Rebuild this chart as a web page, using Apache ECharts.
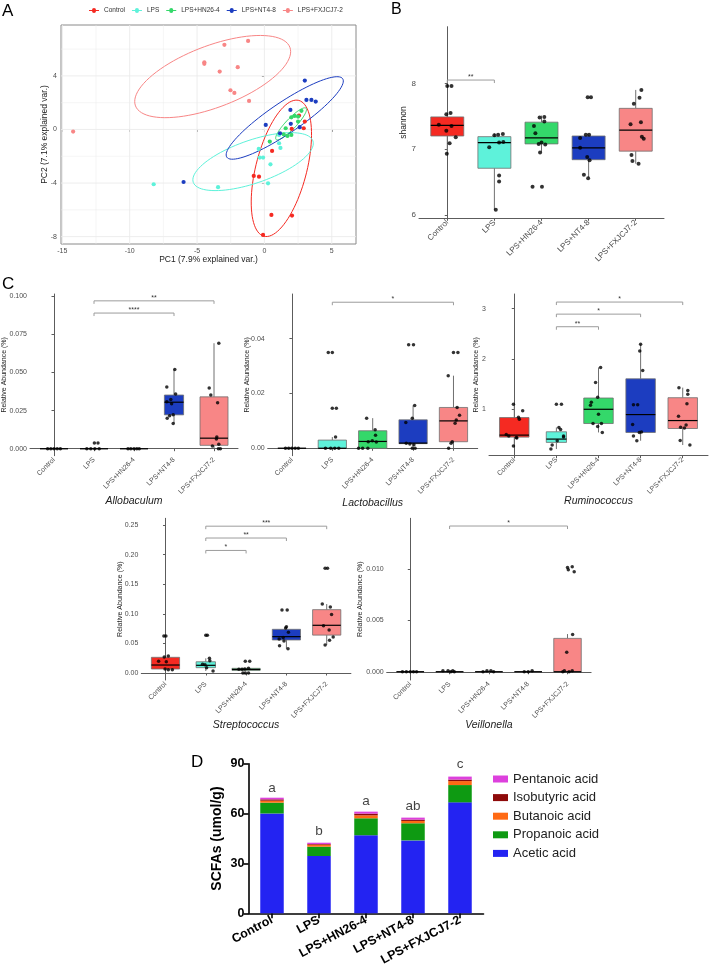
<!DOCTYPE html>
<html><head><meta charset="utf-8">
<script src="https://cdn.jsdelivr.net/npm/echarts@6/dist/echarts.min.js"></script>
<style>html,body{margin:0;padding:0;background:#fff}#c{width:710px;height:971px}</style>
</head><body><div id="c"></div>
<script>
// ---------------- DATA ----------------
const groups = ['Control','LPS','LPS+HN26-4','LPS+NT4-8','LPS+FXJCJ7-2'];

// Panel A: PCA scores [PC1, PC2]
const pcaControl = [[2.57,1.04],[3.0,0.59],[2.03,0.04],[2.92,0.09],[0.57,-1.60],[-0.79,-3.47],[-0.40,-3.52],[0.52,-6.38],[2.05,-6.43],[-0.10,-7.87]];
const pcaLPS = [[-8.22,-4.09],[-3.44,-4.31],[0.27,-4.02],[0.45,-2.60],[-0.42,-1.45],[-0.35,-2.10],[-0.10,-2.10],[1.09,-1.03],[1.19,-1.38],[1.09,-0.41]];
const pcaHN = [[2.75,1.39],[2.25,1.01],[2.50,0.96],[2.0,0.91],[1.58,0.09],[1.43,-0.36],[1.71,-0.48],[2.0,-0.41],[2.50,0.59],[0.40,-0.90]];
const pcaNT = [[3.0,3.65],[3.12,2.21],[3.49,2.21],[3.81,2.08],[1.93,1.46],[0.10,0.34],[1.96,0.42],[2.62,0.17],[1.16,-0.28],[-6.0,-3.92]];
const pcaFX = [[-2.97,6.32],[-1.21,6.61],[-4.46,5.02],[-4.46,4.9],[-3.32,4.32],[-1.98,4.65],[-2.52,2.93],[-2.23,2.73],[-1.14,2.13],[-14.2,-0.16]];
// confidence ellipses: [centerX, centerY, axis1X, axis1Y, axis2X, axis2Y]
const ellControl = [1.26,-2.9,1.29,5.07,-1.83,0.47];
const ellLPS = [-0.84,-2.4,4.44,1.55,-0.53,1.51];
const ellHN = [1.98,0.42,1.11,1.17,-0.28,0.26];
const ellNT = [1.51,0.86,4.30,2.93,-0.65,0.95];
const ellFX = [-3.84,3.95,5.73,2.19,-0.82,2.15];
const pcaXRange = [-15.1, 6.8];
const pcaYRange = [-8.55, 7.8];
const pcaXTicks = [-15,-10,-5,0,5];
const pcaYTicks = [-8,-4,0,4];

// Panel B: shannon, boxes [lowWhisker, Q1, median, Q3, highWhisker]; points [jitter, value]
const shannonBox = [[6.93,7.20,7.36,7.49,7.55],[6.08,6.71,7.10,7.19,7.24],[6.96,7.08,7.17,7.41,7.51],[6.57,6.84,7.02,7.20,7.22],[6.78,6.97,7.29,7.62,7.90]];
const shannonPts = [
  [[0,7.96],[0.09,7.96],[-0.02,7.53],[0.07,7.55],[-0.18,7.37],[0.09,7.35],[-0.02,7.28],[0.18,7.18],[0.05,7.09],[-0.01,6.93]],
  [[0,7.21],[0.08,7.22],[0.18,7.23],[0.1,7.10],[0.19,7.11],[-0.11,7.03],[0.1,6.60],[0.1,6.51],[0.03,6.08]],
  [[-0.04,7.48],[0.06,7.49],[0.06,7.42],[-0.16,7.35],[-0.13,7.24],[0,7.10],[-0.06,7.08],[0.08,7.07],[-0.03,6.95],[-0.19,6.43],[0.01,6.43]],
  [[-0.02,7.79],[0.05,7.79],[-0.06,7.22],[0.01,7.22],[-0.18,7.17],[-0.18,7.02],[-0.03,6.88],[0.02,6.83],[-0.1,6.61],[-0.01,6.56]],
  [[0.12,7.90],[0.08,7.78],[-0.04,7.69],[0.11,7.41],[-0.11,7.38],[0.13,7.19],[0.17,7.16],[-0.09,6.91],[-0.07,6.82],[0.06,6.78]]
];
const shannonSig = [[0,1,8.05]]; const shannonSigLbl = ['**'];
const shannonRange = [5.95, 8.86]; const shannonTicks = [6,7,8];

// Panel C: genus relative abundance
const alloBox = [[0,0,0,0,0],[0,0,0,0,0],[0,0,0,0,0],[0.0165,0.0222,0.0305,0.0352,0.052],[0,0.0022,0.0069,0.0340,0.0692]];
const alloPts = [
  [[-0.16,0],[-0.08,0],[0,0],[0.08,0],[0.16,0]],
  [[0.01,0.0037],[0.1,0.0037],[-0.18,0],[-0.08,0],[0.02,0],[0.13,0]],
  [[-0.15,0],[-0.08,0],[0,0],[0.07,0],[0.13,0]],
  [[0.02,0.052],[-0.18,0.0405],[0.04,0.0359],[-0.08,0.0322],[-0.18,0.0308],[-0.06,0.0295],[-0.02,0.0222],[-0.11,0.0216],[-0.17,0.020],[-0.02,0.0165]],
  [[0.12,0.0692],[-0.12,0.0399],[-0.08,0.0352],[0.09,0.0302],[0.07,0.0077],[0.06,0.0064],[0.12,0.0029],[-0.04,0.0018],[0.11,0],[0.16,0]]
];
const alloSig = [[1,4,0.097],[1,3,0.089]]; const alloSigLbl = ['**','****'];
const alloRange = [-0.0046, 0.1015]; const alloTicks = [0,0.025,0.05,0.075,0.1];

const lactoBox = [[0,0,0,0,0],[0,0,0,0.0030,0.0041],[0,0,0.0025,0.0064,0.011],[0,0.0017,0.0019,0.0104,0.0156],[0,0.0024,0.010,0.0149,0.0265]];
const lactoPts = [
  [[-0.16,0],[-0.08,0],[0,0],[0.08,0],[0.16,0]],
  [[-0.1,0.035],[0,0.035],[0,0.0146],[0.1,0.0146],[0.08,0.0041],[-0.17,0],[-0.04,0],[0.06,0],[0.16,0]],
  [[-0.15,0.011],[0.06,0.0068],[0.07,0.0048],[-0.11,0.0024],[-0.01,0.0028],[0.09,0.0023],[-0.35,0],[-0.25,0],[-0.12,0]],
  [[-0.11,0.0378],[0.01,0.0378],[0.04,0.0156],[-0.02,0.011],[-0.18,0.0094],[-0.17,0.0018],[-0.08,0.0016],[0.02,0.0013],[-0.02,0],[0.05,0]],
  [[0,0.035],[0.11,0.035],[-0.13,0.0265],[0.09,0.0149],[0.15,0.0121],[0.07,0.0103],[0.04,0.0091],[-0.03,0.0024],[-0.06,0.0018],[-0.12,0]]
];
const lactoSig = [[1,4,0.0533]]; const lactoSigLbl = ['*'];
const lactoRange = [-0.0027, 0.0563]; const lactoTicks = [0,0.02,0.04];

const rumiBox = [[0.27,0.447,0.487,0.836,1.105],[0.21,0.342,0.408,0.553,0.64],[0.54,0.717,1.0,1.224,1.83],[0.375,0.54,0.895,1.605,2.29],[0.29,0.618,0.776,1.23,1.43]];
const rumiPts = [
  [[-0.02,1.10],[0.2,0.97],[0.1,0.84],[0.12,0.80],[-0.19,0.50],[-0.13,0.47],[0.05,0.44],[0.06,0.43],[-0.02,0.27]],
  [[0,1.10],[0.12,1.10],[0.06,0.64],[0.1,0.60],[0.17,0.47],[0.17,0.45],[0.02,0.375],[-0.1,0.29],[-0.13,0.21]],
  [[0.05,1.83],[-0.07,1.53],[-0.02,1.24],[-0.17,1.14],[-0.19,1.08],[0,0.90],[-0.13,0.72],[0.07,0.72],[-0.02,0.66],[0.09,0.54]],
  [[0,2.29],[-0.02,2.16],[0.05,1.77],[-0.17,1.09],[-0.07,1.09],[-0.19,0.70],[-0.03,0.54],[0.02,0.55],[-0.17,0.47],[-0.09,0.375]],
  [[-0.09,1.43],[0.12,1.375],[0.12,1.30],[0.1,1.11],[-0.1,0.86],[0.08,0.69],[-0.05,0.645],[0.04,0.63],[-0.06,0.38],[0.17,0.29]]
];
const rumiSig = [[1,2,2.64],[1,3,2.89],[1,4,3.13]]; const rumiSigLbl = ['**','*','*'];
const rumiRange = [0.078, 3.29]; const rumiTicks = [1,2,3];

const strepBox = [[0.0056,0.0068,0.0135,0.0265,0.0287],[0.0034,0.009,0.013,0.019,0.0248],[0.0045,0.0045,0.006,0.0079,0.0079],[0.041,0.0558,0.0614,0.0738,0.0783],[0.0473,0.064,0.0806,0.107,0.1165]];
const strepPts = [
  [[-0.04,0.0625],[0.01,0.0625],[0.07,0.0287],[-0.03,0.027],[-0.17,0.0197],[0.02,0.019],[-0.01,0.0068],[0.07,0.0056],[0.17,0.0056]],
  [[0,0.0637],[0.04,0.0637],[0.09,0.0248],[0.1,0.0208],[-0.08,0.0146],[-0.02,0.014],[0.02,0.009],[0.18,0.0034]],
  [[-0.02,0.0197],[0.09,0.0197],[-0.1,0.0062],[-0.03,0.0068],[0.06,0.0079],[-0.18,0.0062],[-0.08,0],[-0.02,0],[0.06,0]],
  [[-0.11,0.1064],[0.02,0.1064],[0,0.0783],[-0.02,0.076],[0.05,0.0687],[-0.08,0.060],[-0.18,0.0574],[-0.06,0.054],[-0.17,0.046],[0.04,0.041]],
  [[-0.04,0.177],[0.02,0.177],[-0.11,0.1165],[0.09,0.1115],[0.12,0.099],[-0.08,0.080],[0.06,0.0726],[0.16,0.0608],[0.07,0.0552],[-0.04,0.0473]]
];
const strepSig = [[1,2,0.207],[1,3,0.228],[1,4,0.248]]; const strepSigLbl = ['*','**','***'];
const strepRange = [-0.0118, 0.2613]; const strepTicks = [0,0.05,0.1,0.15,0.2,0.25];

const veilBox = [[0,0,0,0,0],[0,0,0,0,0.0001],[0,0,0,0,0],[0,0,0,0,0],[0,0,0,0.00324,0.00366]];
const veilPts = [
  [[-0.2,0],[-0.1,0],[0,0],[0.08,0],[0.16,0]],
  [[-0.17,0.0001],[-0.04,0.0001],[0.08,0.0001],[0.12,0],[0.03,0]],
  [[-0.15,0],[-0.05,0.0001],[0.05,0.0001],[0.12,0]],
  [[-0.1,0],[0,0],[0.1,0.0001]],
  [[0,0.01013],[0.12,0.0102],[0.02,0.0099],[0.17,0.0097],[0.13,0.00362],[-0.02,0.0019],[-0.08,0.0001],[0.12,0.0001],[0.04,0],[-0.12,0]]
];
const veilSig = [[1,4,0.01415]]; const veilSigLbl = ['*'];
const veilRange = [-0.0008, 0.0149]; const veilTicks = [0,0.005,0.01];

// Panel D: SCFAs (umol/g), stacked
const acetic = [60.1,34.5,47.0,43.9,66.8];
const propanoic = [6.5,5.6,10.2,10.3,10.4];
const butanoic = [1.2,1.2,1.8,1.4,2.4];
const isobutyric = [0.8,0.4,1.0,0.8,0.9];
const pentanoic = [1.0,0.8,1.2,1.2,1.8];
const sigLetters = ['a','b','a','ab','c'];
const sigLetterY = [75.3,49.2,67.2,64.2,89.8];
const scfaTicks = [0,90,30];

// ---------------- STYLE ----------------
const font = '"Liberation Sans", Arial, Helvetica, sans-serif';
const groupColors = ['#F52A22','#5EF2DA','#34D86A','#1C3DC0','#F88686'];
const acidColors = {'Acetic acid':'#2323F2','Propanoic acid':'#0E9A12','Butanoic acid':'#FF6A14','Isobutyric acid':'#8E0A0A','Pentanoic acid':'#DD40DD'};
const axisGray = '#5c5c5c';
const tickText = '#4d4d4d';
const boxLine = '#707070';

const grids = [], xAxes = [], yAxes = [], series = [];

// ---------- Panel A ----------
grids.push({left:61, top:25, width:295, height:219, show:true, borderColor:'#8a8a8a', borderWidth:1, backgroundColor:'#fff', outerBoundsMode:'none'});
xAxes.push({gridIndex:0, type:'value', min:pcaXRange[0], max:pcaXRange[1],
  axisLine:{show:false}, splitLine:{show:false},
  axisTick:{show:true, customValues:pcaXTicks, length:2.5, lineStyle:{color:'#8a8a8a', width:1}},
  axisLabel:{customValues:pcaXTicks, fontSize:7, color:tickText, margin:3.5, fontFamily:font},
  name:'PC1 (7.9% explained var.)', nameLocation:'middle', nameGap:11, nameMoveOverlap:false,
  nameTextStyle:{fontSize:8.5, color:'#222', fontFamily:font}});
yAxes.push({gridIndex:0, type:'value', min:pcaYRange[0], max:pcaYRange[1],
  axisLine:{show:false}, splitLine:{show:false},
  axisTick:{show:true, customValues:pcaYTicks, length:2.5, lineStyle:{color:'#8a8a8a', width:1}},
  axisLabel:{customValues:pcaYTicks, fontSize:7, color:tickText, margin:4, fontFamily:font},
  name:'PC2 (7.1% explained var.)', nameLocation:'middle', nameGap:12, nameMoveOverlap:false,
  nameTextStyle:{fontSize:8.5, color:'#222', fontFamily:font}});
// panel grid lines (major at ticks, minor midway)
series.push({type:'custom', name:'gridA', xAxisIndex:0, yAxisIndex:0, silent:true, z:1, data:[[0,0]],
  renderItem:(p, api) => {
    const ch = [];
    const mk = (arr) => { const m = []; for (let i = 0; i < arr.length - 1; i++) m.push((arr[i] + arr[i+1]) / 2); m.unshift(arr[0] - (arr[1]-arr[0])/2); m.push(arr[arr.length-1] + (arr[1]-arr[0])/2); return m; };
    const xs = pcaXTicks.map(v=>[v,0.9]).concat(mk(pcaXTicks).map(v=>[v,0.5]));
    const ys = pcaYTicks.map(v=>[v,0.9]).concat(mk(pcaYTicks).map(v=>[v,0.5]));
    xs.forEach(([v,w]) => { if (v < pcaXRange[0] || v > pcaXRange[1]) return; const a = api.coord([v,pcaYRange[0]]), b = api.coord([v,pcaYRange[1]]);
      ch.push({type:'line', shape:{x1:a[0],y1:a[1],x2:b[0],y2:b[1]}, style:{stroke:'#ebebeb', lineWidth:w}}); });
    ys.forEach(([v,w]) => { if (v < pcaYRange[0] || v > pcaYRange[1]) return; const a = api.coord([pcaXRange[0],v]), b = api.coord([pcaXRange[1],v]);
      ch.push({type:'line', shape:{x1:a[0],y1:a[1],x2:b[0],y2:b[1]}, style:{stroke:'#ebebeb', lineWidth:w}}); });
    return {type:'group', children:ch};
  }});
const pcaSets = [pcaControl, pcaLPS, pcaHN, pcaNT, pcaFX];
const ellSets = [ellControl, ellLPS, ellHN, ellNT, ellFX];
ellSets.forEach((e, gi) => {
  series.push({type:'custom', name:'ell'+gi, xAxisIndex:0, yAxisIndex:0, silent:true, z:2, clip:true, data:[[e[0],e[1]]],
    renderItem:(p, api) => {
      const pts = [];
      for (let k = 0; k <= 90; k++) { const t = k / 90 * 2 * Math.PI;
        pts.push(api.coord([e[0] + e[2]*Math.cos(t) + e[4]*Math.sin(t), e[1] + e[3]*Math.cos(t) + e[5]*Math.sin(t)])); }
      return {type:'polyline', shape:{points:pts}, style:{stroke:groupColors[gi], lineWidth:1, fill:null}};
    }});
});
pcaSets.forEach((d, gi) => {
  series.push({type:'scatter', name:groups[gi], xAxisIndex:0, yAxisIndex:0, z:3, data:d, symbolSize:4.2,
    itemStyle:{color:groupColors[gi], opacity:1}});
});

// ---------- Box panels ----------
function bracketRender(labels) {
  return (params, api) => {
    const a = api.coord([api.value(0), api.value(2)]);
    const b = api.coord([api.value(1), api.value(2)]);
    const t = 3;
    return {type:'group', children:[
      {type:'polyline', shape:{points:[[a[0],a[1]+t],[a[0],a[1]],[b[0],b[1]],[b[0],b[1]+t]]}, style:{stroke:'#9c9c9c', lineWidth:1, fill:null}},
      {type:'text', x:(a[0]+b[0])/2, y:a[1]+0.5, style:{text:labels[params.dataIndex], fontSize:7, fill:'#333', align:'center', verticalAlign:'bottom', fontFamily:font}}
    ]};
  };
}
function addBoxPanel(cfg) {
  const gi = grids.length;
  grids.push({left:cfg.left, top:cfg.top, width:cfg.width, height:cfg.height, outerBoundsMode:'none'});
  xAxes.push({gridIndex:gi, type:'value', min:-0.6, max:4.6,
    axisLine:{show:true, lineStyle:{color:axisGray, width:1}},
    axisTick:{show:true, customValues:[0,1,2,3,4], length:2.5, lineStyle:{color:axisGray, width:1}},
    axisLabel:{customValues:[0,1,2,3,4], formatter:v => groups[Math.round(v)], rotate:45, fontSize:cfg.fs, color:tickText, margin:3, fontFamily:font},
    splitLine:{show:false},
    name:cfg.xName || '', nameLocation:'middle', nameGap:cfg.xGap || 40, nameMoveOverlap:false,
    nameTextStyle:{fontSize:10.5, fontStyle:'italic', color:'#222', fontFamily:font}});
  yAxes.push({gridIndex:gi, type:'value', min:cfg.range[0], max:cfg.range[1],
    axisLine:{show:true, lineStyle:{color:axisGray, width:1}},
    axisTick:{show:true, customValues:cfg.ticks, length:2.5, lineStyle:{color:axisGray, width:1}},
    axisLabel:{customValues:cfg.ticks, formatter:cfg.fmt, fontSize:cfg.fs, color:tickText, margin:3, fontFamily:font},
    splitLine:{show:false},
    name:cfg.yName, nameLocation:'middle', nameGap:cfg.yGap, nameMoveOverlap:false,
    nameTextStyle:{fontSize:cfg.yNameFs, color:'#222', fontFamily:font}});
  const boxData = cfg.box.map((b, i) => [i, b[0], b[1], b[2], b[3], b[4], (cfg.narrow && cfg.narrow.indexOf(i) >= 0) ? 0.48 : cfg.bw]);
  series.push({type:'custom', name:'box'+gi, xAxisIndex:gi, yAxisIndex:gi, z:2, silent:true, data:boxData,
    renderItem:(params, api) => {
      const g = api.value(0);
      const cx = api.coord([g, api.value(3)]);
      const half = api.size([1, 0])[0] * api.value(6) / 2;
      const yLo = api.coord([g, api.value(1)])[1], yQ1 = api.coord([g, api.value(2)])[1];
      const yQ3 = api.coord([g, api.value(4)])[1], yHi = api.coord([g, api.value(5)])[1];
      return {type:'group', children:[
        {type:'line', shape:{x1:cx[0], y1:yHi, x2:cx[0], y2:yQ3}, style:{stroke:boxLine, lineWidth:1}},
        {type:'line', shape:{x1:cx[0], y1:yQ1, x2:cx[0], y2:yLo}, style:{stroke:boxLine, lineWidth:1}},
        {type:'rect', shape:{x:cx[0]-half, y:yQ3, width:2*half, height:Math.max(yQ1-yQ3, 0)}, style:{fill:groupColors[g], stroke:boxLine, lineWidth:0.8}},
        {type:'line', shape:{x1:cx[0]-half, y1:cx[1], x2:cx[0]+half, y2:cx[1]}, style:{stroke:'#000', lineWidth:1.2}}
      ]};
    }});
  const pts = [];
  cfg.pts.forEach((arr, i) => arr.forEach(p => pts.push([i + p[0], p[1]])));
  series.push({type:'scatter', name:'pts'+gi, xAxisIndex:gi, yAxisIndex:gi, z:4, silent:true, data:pts, symbolSize:cfg.ps,
    itemStyle:{color:'#000'}});
  series.push({type:'custom', name:'sig'+gi, xAxisIndex:gi, yAxisIndex:gi, z:3, silent:true, clip:false, data:cfg.sig,
    renderItem:bracketRender(cfg.sigLbl)});
}

// Panel B
addBoxPanel({left:419, top:26.7, width:245, height:191.6, range:shannonRange, ticks:shannonTicks, fmt:v=>String(Math.round(v)),
  fs:8, yName:'shannon', yGap:10.5, yNameFs:8.5, box:shannonBox, pts:shannonPts, sig:shannonSig, sigLbl:shannonSigLbl, bw:0.7, ps:4});
// Panel C row 1
const rlbl = 'Relative Abundance (%)';
addBoxPanel({left:30, top:294, width:208, height:161.7, range:alloRange, ticks:alloTicks, fmt:v=>v.toFixed(3),
  fs:7, yName:rlbl, yGap:22, yNameFs:7, xName:'Allobaculum', xGap:40, box:alloBox, pts:alloPts, sig:alloSig, sigLbl:alloSigLbl, bw:0.7, narrow:[3], ps:3.5});
addBoxPanel({left:267.7, top:294, width:210, height:161.7, range:lactoRange, ticks:lactoTicks, fmt:v=>v.toFixed(2),
  fs:7, yName:rlbl, yGap:17.5, yNameFs:7, xName:'Lactobacillus', xGap:41.5, box:lactoBox, pts:lactoPts, sig:lactoSig, sigLbl:lactoSigLbl, bw:0.7, ps:3.5});
addBoxPanel({left:489, top:294, width:219, height:161.7, range:rumiRange, ticks:rumiTicks, fmt:v=>String(Math.round(v)),
  fs:7, yName:rlbl, yGap:9, yNameFs:7, xName:'Ruminococcus', xGap:40, box:rumiBox, pts:rumiPts, sig:rumiSig, sigLbl:rumiSigLbl, bw:0.7, narrow:[1], ps:3.5});
// Panel C row 2
addBoxPanel({left:141.3, top:518.3, width:209.6, height:161.7, range:strepRange, ticks:strepTicks, fmt:v=>v.toFixed(2),
  fs:7, yName:rlbl, yGap:18, yNameFs:7, xName:'Streptococcus', xGap:39.5, box:strepBox, pts:strepPts, sig:strepSig, sigLbl:strepSigLbl, bw:0.7, narrow:[1], ps:3.5});
addBoxPanel({left:386.7, top:518.3, width:204.4, height:161.7, range:veilRange, ticks:veilTicks, fmt:v=>v.toFixed(3),
  fs:7, yName:rlbl, yGap:23.5, yNameFs:7, xName:'Veillonella', xGap:39.5, box:veilBox, pts:veilPts, sig:veilSig, sigLbl:veilSigLbl, bw:0.7, ps:3.5});

// ---------- Panel D ----------
const dIdx = grids.length;
grids.push({left:248.5, top:763.8, width:235, height:149.5, outerBoundsMode:'none'});
xAxes.push({gridIndex:dIdx, type:'category', data:groups,
  axisLine:{show:true, lineStyle:{color:'#000', width:1.6}},
  axisTick:{show:true, alignWithLabel:true, length:5, lineStyle:{color:'#000', width:1.6}},
  axisLabel:{rotate:28, interval:0, fontSize:12.5, fontWeight:'bold', color:'#000', margin:6, fontFamily:font},
  splitLine:{show:false}});
yAxes.push({gridIndex:dIdx, type:'value', min:scfaTicks[0], max:scfaTicks[1], interval:scfaTicks[2],
  axisLine:{show:true, lineStyle:{color:'#000', width:1.6}},
  axisTick:{show:true, length:5, lineStyle:{color:'#000', width:1.6}},
  axisLabel:{fontSize:12.5, fontWeight:'bold', color:'#000', margin:4, fontFamily:font},
  splitLine:{show:false},
  name:'SCFAs (umol/g)', nameLocation:'middle', nameGap:24, nameMoveOverlap:false,
  nameTextStyle:{fontSize:14, fontWeight:'bold', color:'#000', fontFamily:font}});
const acids = [['Acetic acid', acetic], ['Propanoic acid', propanoic], ['Butanoic acid', butanoic], ['Isobutyric acid', isobutyric], ['Pentanoic acid', pentanoic]];
acids.forEach(([nm, arr]) => {
  series.push({type:'bar', name:nm, xAxisIndex:dIdx, yAxisIndex:dIdx, stack:'scfa', data:arr, barWidth:23.5,
    itemStyle:{color:acidColors[nm]}, emphasis:{disabled:true}});
});
series.push({type:'scatter', name:'letters', xAxisIndex:dIdx, yAxisIndex:dIdx, silent:true, symbolSize:0, z:5,
  data:sigLetterY.map((y, i) => [i, y]),
  label:{show:true, position:'inside', formatter:p => sigLetters[p.dataIndex], fontSize:13.5, color:'#111', fontFamily:font}});

const legendIcon = 'path://M0,2L3,2A2,2,0,1,1,7,2L10,2L10,3L7,3A2,2,0,1,1,3,3L0,3Z';
const option = {
  animation:false,
  backgroundColor:'#fff',
  textStyle:{fontFamily:font},
  grid:grids, xAxis:xAxes, yAxis:yAxes, series:series,
  legend:[
    {data:groups.map(g => ({name:g, icon:legendIcon})), left:84, top:2, orient:'horizontal', itemWidth:10, itemHeight:5, itemGap:7,
      selectedMode:false, textStyle:{fontSize:6.5, color:'#333', fontFamily:font}},
    {data:['Pentanoic acid','Isobutyric acid','Butanoic acid','Propanoic acid','Acetic acid'], orient:'vertical', left:488, top:766.7,
      itemWidth:15, itemHeight:7, itemGap:4, selectedMode:false, icon:'rect',
      textStyle:{fontSize:13, lineHeight:14.6, color:'#222', fontFamily:font}}
  ],
  graphic:[
    {type:'text', left:2, top:3, style:{text:'A', fontSize:17, fill:'#000', fontFamily:font}},
    {type:'text', left:391, top:2, style:{text:'B', fontSize:16, fill:'#000', fontFamily:font}},
    {type:'text', left:2, top:276, style:{text:'C', fontSize:17, fill:'#000', fontFamily:font}},
    {type:'text', left:191, top:754, style:{text:'D', fontSize:17, fill:'#000', fontFamily:font}}
  ]
};
const chart = echarts.init(document.getElementById('c'), null, {renderer:'canvas'});
chart.setOption(option);
</script>
</body></html>
